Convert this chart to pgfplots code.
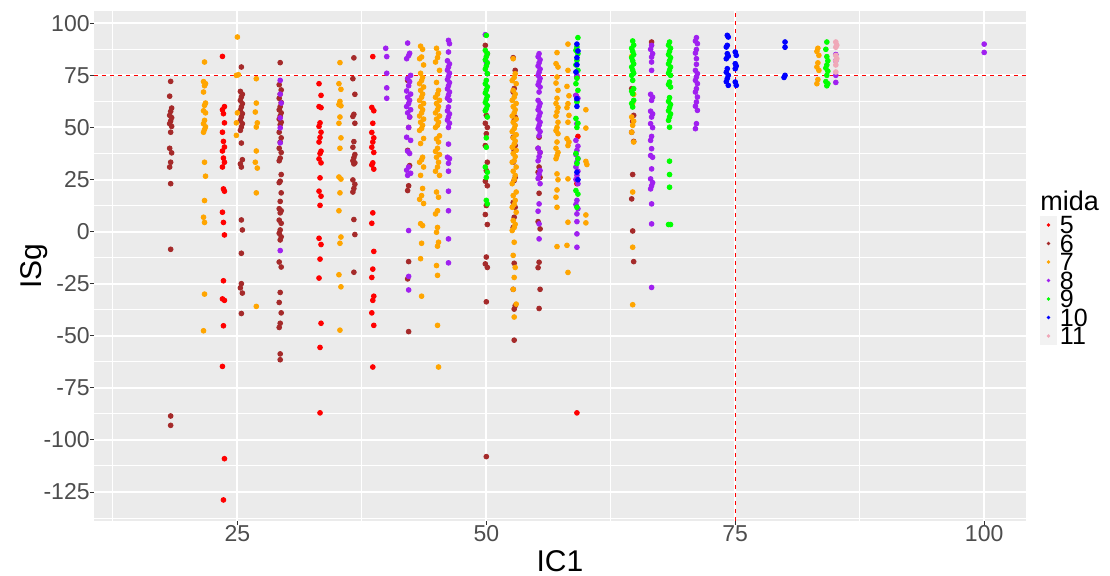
\documentclass[border=0pt]{standalone}
\usepackage{fontspec}
\setmainfont{Liberation Sans}
\usepackage{pgfplots}
\pgfplotsset{compat=1.18}

\definecolor{panelbg}{HTML}{EBEBEB}
\definecolor{legbg}{HTML}{F2F2F2}
\definecolor{gray30}{HTML}{4D4D4D}
\definecolor{gray20}{HTML}{333333}
\definecolor{c5}{HTML}{FF0000}
\definecolor{c6}{HTML}{A52A2A}
\definecolor{c7}{HTML}{FFA500}
\definecolor{c8}{HTML}{A020F0}
\definecolor{c9}{HTML}{00FF00}
\definecolor{c10}{HTML}{0000FF}
\definecolor{c11}{HTML}{F0A8B8}

\pgfplotsset{pt/.style={only marks, mark=*, mark size=1.2pt, draw=none, fill=#1, color=#1,
  legend image code/.code={\fill[legbg] (0pt,-4.625pt) rectangle (8.5pt,4.625pt);
    \fill (4.25pt,0pt) circle[radius=0.9pt];}}}

\begin{document}
\begin{tikzpicture}
\path[use as bounding box] (-47pt,-27.5pt) rectangle (508pt,260.5pt);
\begin{axis}[scale only axis, width=466pt, height=255pt, clip=false,
  xmin=10.6, xmax=104.2, ymin=-138.9, ymax=105.9,
  axis background/.style={fill=panelbg}, axis line style={draw=none},
  xtick={25,50,75,100}, xticklabels={25,50,75,100},
  ytick={-125,-100,-75,-50,-25,0,25,50,75,100},
  yticklabels={-125,-100,-75,-50,-25,0,25,50,75,100},
  minor xtick={12.5,37.5,62.5,87.5},
  minor ytick={-137.5,-112.5,-87.5,-62.5,-37.5,-12.5,12.5,37.5,62.5,87.5},
  grid=both, major grid style={white, line width=1pt}, minor grid style={white, line width=0.5pt},
  tick align=outside, major tick length=2pt, minor tick length=0pt,
  xtick pos=lower, ytick pos=lower,
  tick style={draw=gray20, line width=0.5pt},
  ticklabel style={font=\fontsize{11.5}{11.5}\selectfont, text=gray30, inner sep=0pt},
  label style={font=\fontsize{15}{15}\selectfont},
  xlabel={IC1}, xlabel style={at={(axis description cs:0.5,-0.0995)}, anchor=base, inner sep=0pt},
  ylabel={ISg}, ylabel style={at={(axis description cs:-0.0558,0.5)}, anchor=base, inner sep=0pt},
  legend style={at={(axis description cs:1.015,0.4716)}, anchor=west, draw=none, fill=none,
    inner sep=0pt, outer sep=0pt, row sep=0pt, column sep=1.5pt,
    font=\fontsize{12.5}{12.5}\selectfont,
    nodes={inner sep=0pt, text height=9.1pt, text depth=0.15pt}},
  legend cell align=left]

\addplot[pt=c5] coordinates {
(23.5,84.1)(23.7,60)(23.5,58.5)(23.6,56.6)(23.7,52.2)(23.5,47.7)(23.6,43.3)(23.7,40.6)(23.5,38.7)(23.6,35.3)(23.7,33.3)(23.5,31)(23.6,20.5)(23.7,19.4)(23.5,9.3)(23.6,4.4)(23.7,-1.6)(23.6,-23.6)(23.5,-32.3)(23.7,-33)(23.6,-45.2)(23.5,-64.7)(23.7,-109)(23.6,-128.8)
(33.2,71)(33.4,65.4)(33.2,60)(33.4,59.5)(33.3,52.2)(33.2,50.5)(33.4,47.7)(33.3,45.2)(33.2,43)(33.4,38.6)(33.3,37.5)(33.2,34.9)(33.4,33)(33.3,25.8)(33.2,19.4)(33.4,17)(33.3,12.6)(33.2,-3.2)(33.4,-6.2)(33.3,-13.2)(33.2,-22.3)(33.4,-44)(33.3,-55.6)(33.3,-87)
(38.6,84)(38.5,59.6)(38.7,58)(38.6,52)(38.5,47.6)(38.7,45)(38.6,43)(38.5,40.5)(38.7,38)(38.6,33)(38.5,32)(38.7,30)(38.6,9)(38.5,4)(38.7,-9.5)(38.6,-18)(38.5,-22)(38.7,-31)(38.6,-33)(38.5,-39)(38.7,-45)(38.6,-65)
(59.1,74.2)(59.0,65.4)(59.2,45.7)(59.1,23)(59.1,-87)};
\addlegendentry{5}

\addplot[pt=c6] coordinates {
(18.3,72.1)(18.2,65)(18.4,59.3)(18.3,57.7)(18.2,55.8)(18.4,54.7)(18.3,53.1)(18.2,51.8)(18.4,50.5)(18.3,47.7)(18.2,40)(18.4,37.8)(18.3,33.3)(18.2,31)(18.3,23)(18.3,-8.5)(18.3,-88.5)(18.3,-93)
(25.4,79)(25.3,67.3)(25.5,65.9)(25.4,64.6)(25.3,63)(25.5,61.4)(25.4,59.8)(25.3,58.2)(25.5,56.6)(25.4,55)(25.3,53.4)(25.5,51.8)(25.4,50.2)(25.3,48.6)(25.4,42.5)(25.5,34.5)(25.3,32.5)(25.4,31)(25.4,5.6)(25.5,0.8)(25.4,-10.4)(25.4,-25)(25.3,-27)(25.5,-29.5)(25.4,-39.3)
(29.3,81.1)(29.2,70.5)(29.4,68)(29.3,66)(29.2,64)(29.4,62)(29.3,60)(29.2,58.5)(29.4,57)(29.3,55.5)(29.2,54)(29.4,52.5)(29.3,51.3)(29.2,47.7)(29.4,45)(29.3,43)(29.2,40)(29.4,38)(29.3,35.3)(29.2,34)(29.4,27.4)(29.3,24.2)(29.2,23.5)(29.4,18.6)(29.3,14.5)(29.2,11)(29.4,10)(29.3,9)(29.2,5.5)(29.4,4)(29.3,0.8)(29.2,-0.8)(29.4,-2.5)(29.3,-4)(29.2,-14.6)(29.4,-17)(29.3,-29.2)(29.2,-34)(29.4,-39)(29.3,-44)(29.2,-46)(29.3,-58.7)(29.3,-61.5)
(36.7,83.4)(36.6,73.4)(36.8,65.9)(36.7,56.3)(36.6,55.3)(36.8,52)(36.7,43.2)(36.6,40.5)(36.8,37)(36.7,35.5)(36.6,34)(36.8,33)(36.7,32.5)(36.6,24.8)(36.8,22.7)(36.7,20.7)(36.6,19)(36.7,5.8)(36.8,-1.4)(36.7,-19.5)
(42.1,72.6)(42.3,55)(42.2,50)(42.1,39)(42.3,31.7)(42.2,22)(42.1,19.7)(42.2,-14.4)(42.1,-22.7)(42.2,-48)
(49.9,89.4)(50.1,85.4)(50,55.8)(49.9,52)(50.1,50)(50,47)(49.9,41.3)(50.1,33.3)(50,29.3)(49.9,24.2)(50.1,22)(50,12.5)(49.9,8.2)(50.1,3.4)(50,-12.2)(49.9,-15.5)(50.1,-17.2)(50,-33.7)(50,-108)
(52.7,83.5)(52.9,77.4)(52.8,68.7)(52.7,67)(52.9,55)(52.8,53.4)(52.7,45.3)(52.9,41.3)(52.8,39)(52.7,33.3)(52.9,26)(52.8,24.5)(52.7,14)(52.9,11.7)(52.8,6.9)(52.7,2)(52.8,-15.2)(52.7,-27.7)(52.9,-35.6)(52.8,-37.2)(52.8,-52.1)
(55.3,45.3)(55.2,40)(55.4,38)(55.3,31)(55.2,28.5)(55.4,26)(55.3,18.4)(55.2,4.8)(55.4,1.3)(55.3,-14.7)(55.2,-17.3)(55.4,-27.7)(55.3,-36.9)
(64.6,68.6)(64.8,55.8)(64.7,52.9)(64.6,47.7)(64.8,43.3)(64.7,27.4)(64.6,15.7)(64.7,0.3)(64.8,-14.4)
(66.6,91)};
\addlegendentry{6}

\addplot[pt=c7] coordinates {
(21.7,81.4)(21.6,72)(21.8,71)(21.7,70)(21.6,67)(21.8,61.7)(21.7,60.6)(21.6,58)(21.8,57)(21.7,53.4)(21.6,51.8)(21.8,50.3)(21.7,49)(21.6,47.7)(21.7,33.3)(21.8,26.6)(21.7,14.9)(21.6,6.9)(21.7,4.4)(21.7,-30)(21.6,-47.6)
(25,93.4)(24.9,75)(25.1,75.3)(25,57)(24.9,52.2)(24.9,46.2)
(26.9,73.4)(26.9,61.7)(26.8,57.4)(27,52.2)(26.9,50.2)(26.9,38.7)(26.8,33.3)(27,30.5)(26.9,18.6)(26.9,-35.9)
(35.3,81.1)(35.2,71)(35.4,68.3)(35.3,62.5)(35.2,61)(35.4,60.4)(35.3,55)(35.2,52)(35.4,45)(35.3,40)(35.2,26.2)(35.4,25.2)(35.3,18.6)(35.2,10)(35.4,-2.6)(35.3,-5.6)(35.2,-20.7)(35.4,-26.5)(35.3,-47.3)
(43.4,89)(43.6,87.5)(43.5,83.8)(43.3,83)(43.7,80)(43.4,76)(43.6,74)(43.5,72.5)(43.3,71)(43.7,69.4)(43.4,67.8)(43.6,66)(43.5,64.5)(43.3,63)(43.7,61.5)(43.4,60)(43.6,58.5)(43.5,57)(43.3,55.5)(43.7,54)(43.4,52.5)(43.6,51)(43.5,49.5)(43.3,48.6)(43.7,44.7)(43.4,42.3)(43.6,35.7)(43.5,34.5)(43.3,33.3)(43.7,31)(43.4,27)(43.6,20.7)(43.5,17.3)(43.3,15.5)(43.7,13.5)(43.4,3.8)(43.6,2.9)(43.5,-5.6)(43.4,-13)(43.5,-31)
(45.0,88)(45.2,85.6)(45.1,83.5)(44.9,81.4)(45.3,77.4)(45.0,71.6)(45.2,67.8)(45.1,66)(44.9,64.5)(45.3,63)(45.0,61.5)(45.2,60)(45.1,58.5)(44.9,57)(45.3,55.5)(45.0,54)(45.2,52.5)(45.1,51)(44.9,50)(45.3,46)(45.0,44.5)(45.2,43)(45.1,40)(44.9,38.5)(45.3,37)(45.0,35.7)(45.2,33.3)(45.1,31)(44.9,29)(45.3,27)(45.0,19)(45.2,16.5)(45.1,10)(44.9,8.5)(45.1,2)(45.0,-0.3)(45.2,-5.1)(45.1,-7)(45.0,-16.3)(45.1,-21)(45.1,-45)(45.2,-65)
(52.7,83)(52.9,75.8)(52.8,74)(52.6,72.5)(53.0,71)(52.7,67.8)(52.9,66)(52.8,64.5)(52.6,63)(53.0,61.5)(52.7,60)(52.9,58.5)(52.8,57)(52.6,55.5)(53.0,54)(52.7,52.5)(52.9,51)(52.8,49.5)(52.6,48)(53.0,46.5)(52.7,45)(52.9,43.5)(52.8,42)(52.6,40.5)(53.0,39)(52.7,37.5)(52.9,36)(52.8,34)(52.6,33.3)(53.0,31)(52.7,29)(52.9,27)(52.8,25)(52.6,23)(53.0,19)(52.7,17.3)(52.9,15)(52.8,13)(52.6,11.7)(53.0,9.3)(52.7,5.3)(52.9,3.5)(52.8,2)(52.6,0.5)(52.8,-5.1)(52.7,-11.4)(52.9,-17.2)(52.8,-22)(52.7,-27.7)(53.0,-34.8)(52.8,-41)
(57.1,85.9)(57.0,80.6)(57.2,79)(57.1,74.2)(57.0,71.3)(57.2,67.8)(57.1,64)(57.0,61.5)(57.2,59.5)(57.1,57.5)(57.0,55.5)(57.2,52.5)(57.1,50)(57.0,48.5)(57.2,47)(57.1,43)(57.0,40)(57.2,38)(57.1,36.5)(57.0,35)(57.1,27.7)(57.2,24.9)(57.1,20)(57.0,16.5)(57.1,11.7)(57.1,-7.2)
(58.2,90)(58.2,77.4)(58.1,69.7)(58.3,65.2)(58.2,61.4)(58.1,59.5)(58.3,55.8)(58.2,52.5)(58.1,44.6)(58.3,43)(58.2,41.3)(58.2,25.3)(58.2,4.5)(58.1,-6.6)(58.2,-19.6)
(60,58.5)(60,49.7)(60,33.7)(60.1,32.2)(60,8)(60,4.2)
(64.6,84.1)(64.8,65.9)(64.7,61.7)(64.6,55)(64.8,53)(64.7,51)(64.6,47.7)(64.8,43)(64.7,19)(64.7,-7.5)(64.7,-35.1)
(83.3,88)(83.2,86.5)(83.4,84.6)(83.3,81)(83.2,79)(83.4,77.4)(83.3,73)(83.2,71)};
\addlegendentry{7}

\addplot[pt=c8] coordinates {
(29.3,72.6)(29.3,66)(29.4,61.7)(29.3,54.6)(29.3,49.8)(29.3,42.6)(29.3,-9.1)
(39.9,88)(40,84)(40,76)(40,69)(40,64)
(42.1,90.5)(42.3,85.6)(42.2,84.5)(42.0,83)(42.4,75)(42.1,73.5)(42.3,72)(42.2,70)(42.0,67.5)(42.4,66)(42.1,64.5)(42.3,63)(42.2,61.5)(42.0,60)(42.4,58.5)(42.1,57)(42.3,55)(42.2,50)(42.0,45.3)(42.4,43.8)(42.1,38.6)(42.3,37.5)(42.2,31)(42.0,29.5)(42.4,28)(42.1,27)(42.2,0.5)(42.2,-21.5)(42.2,-28)
(46.2,91.8)(46.3,90.2)(46.2,86.2)(46.1,82)(46.3,80.5)(46.2,79)(46.1,77.5)(46.3,76)(46.2,74.5)(46.1,73)(46.3,71.5)(46.2,70)(46.1,68.5)(46.3,67)(46.2,65.5)(46.1,64)(46.3,63)(46.2,59.8)(46.1,58)(46.3,56.5)(46.2,55)(46.1,53.5)(46.3,52)(46.2,50)(46.2,42)(46.1,35.7)(46.3,35)(46.2,32.8)(46.2,29)(46.2,19.4)(46.2,10)(46.2,-3.5)(46.2,-15)
(49.9,94.5)(50,81.4)(50.1,75.8)
(55.3,85.4)(55.2,84)(55.4,82.5)(55.3,81)(55.2,79.5)(55.4,78)(55.3,76.5)(55.2,75)(55.4,73.5)(55.3,72)(55.2,70.5)(55.4,69.4)(55.3,67)(55.2,63)(55.4,61.5)(55.3,60)(55.2,58.5)(55.4,57)(55.3,55.5)(55.2,54)(55.4,52.5)(55.3,51)(55.2,49.5)(55.4,48)(55.3,46)(55.2,40)(55.4,38)(55.3,36)(55.2,34)(55.4,29.3)(55.3,27.5)(55.2,25.5)(55.4,23)(55.3,13.3)(55.2,9.8)(55.3,3.7)(55.3,-3.5)
(59.1,75)(59.0,65.4)(59.2,64)(59.1,63)(59.1,51.8)(59.0,43.8)(59.2,41)(59.1,39)(59.0,37)(59.2,35)(59.1,33.3)(59.0,31)(59.2,29)(59.1,27)(59.0,25)(59.2,23)(59.1,15)(59.0,13)(59.2,11)(59.1,8.5)(59.1,4.8)(59.1,-1.1)(59.1,-7.5)
(66.6,89.4)(66.5,87.5)(66.7,85.4)(66.6,83.8)(66.6,81.4)(66.6,77.4)(66.5,65.9)(66.7,64.5)(66.6,63)(66.5,57.8)(66.7,56.5)(66.6,55)(66.5,51.8)(66.7,49.9)(66.6,45.7)(66.5,43.8)(66.6,39.8)(66.5,36.5)(66.7,35.7)(66.6,30.1)(66.5,25.3)(66.7,23.5)(66.6,22)(66.5,20.5)(66.6,13.3)(66.6,3.7)(66.6,-26.8)
(71.1,93.1)(71.0,91.5)(71.2,90.2)(71.1,87.4)(71.0,85.7)(71.1,83)(71.1,80.3)(71.0,77.4)(71.2,75.8)(71.1,74.2)(71.0,72.6)(71.2,71)(71.1,68.6)(71.0,67)(71.2,64.6)(71.1,62.2)(71.0,60.2)(71.2,58.2)(71.1,51.8)(71.0,49.4)
(85.1,85)(85.1,82)(85.1,75)(85.1,71.6)
(100,90)(100,86)};
\addlegendentry{8}

\addplot[pt=c9] coordinates {
(50,94.2)(49.9,87)(50.1,85.5)(50,84)(49.9,82.5)(50.1,81)(50,79.5)(49.9,78)(50.1,75.8)(50,72.6)(49.9,71)(50.1,69.5)(50,68)(49.9,66.5)(50.1,65)(50,63.5)(49.9,62)(50.1,60.5)(50,59)(49.9,58)(50.1,55)(50,45)(50,40.5)(49.9,31)(50.1,28.5)(50,26)(50,15)(50.1,13.3)
(59.2,93.1)(59.1,88.6)(59.0,87)(59.2,85.4)(59.1,82.2)(59.0,80)(59.2,77.4)(59.1,73.6)(59.0,71)(59.2,67.8)(59.1,62.2)(59.0,54.3)(59.2,52)(59.1,50)(59.0,37.5)(59.2,35)(59.1,32.7)(59.0,19.7)(59.2,18)(59.1,11.7)
(64.7,91.5)(64.8,89.5)(64.6,88)(64.7,86.5)(64.8,85)(64.6,83.5)(64.7,82)(64.8,80.5)(64.6,79)(64.7,77.5)(64.8,76)(64.6,75)(64.7,72.6)(64.8,68.6)(64.6,67.4)(64.7,66.2)(64.8,63)(64.6,61.5)(64.7,59.8)
(68.4,91)(68.3,89.5)(68.5,88)(68.4,86.5)(68.3,85)(68.5,83.5)(68.4,82)(68.3,80.5)(68.5,79)(68.4,77.5)(68.3,76)(68.5,75)(68.4,71.8)(68.3,70.6)(68.5,69.4)(68.4,64.3)(68.3,62.5)(68.5,61)(68.4,59.5)(68.3,58)(68.5,56.5)(68.4,55)(68.3,53.4)(68.4,50.1)(68.4,33.8)(68.4,27.4)(68.4,21.3)(68.3,3.4)(68.5,3.4)
(84.2,91)(84.1,87.5)(84.2,84)(84.3,82)(84.2,80)(84.1,78.5)(84.3,77)(84.2,75)(84.1,72)(84.3,71)(84.2,70)};
\addlegendentry{9}

\addplot[pt=c10] coordinates {
(59.1,90)(59.2,86.7)(59.1,83.5)(59.1,80.1)(59.0,76.6)(59.1,63.8)(59.1,60.1)(59.1,28.5)(59.2,24.9)
(74.2,94.2)(74.3,93.4)(74.2,89.4)(74.1,88.6)(74.2,85.4)(74.3,84.2)(74.1,83)(74.2,78.2)(74.1,76.5)(74.3,75)(74.2,73.5)(74.1,72)(74.3,70.2)
(75,86.2)(75.1,84.6)(75,80.6)(75.1,79.5)(75,78.2)(75,71.8)(75.1,70.2)
(80,91)(80,88.5)(80,75)(79.9,74)};
\addlegendentry{10}

\addplot[pt=c11] coordinates {
(85.1,91)(85.2,89.5)(85.1,88.5)(85.1,84.6)(85.2,83)(85.1,82)(85.1,80)(85.1,76.6)};
\addlegendentry{11}

\addplot[forget plot, color=red, dash pattern=on 2pt off 2pt, line width=0.5pt] coordinates {(10.6,75) (104.2,75)};
\addplot[forget plot, color=red, dash pattern=on 2pt off 2pt, line width=0.5pt] coordinates {(75,-138.9) (75,105.9)};

\node[anchor=base west, inner sep=0pt, font=\fontsize{13.5}{13.5}\selectfont] at (axis description cs:1.015,0.6084) {mida};
\end{axis}
\end{tikzpicture}
\end{document}
